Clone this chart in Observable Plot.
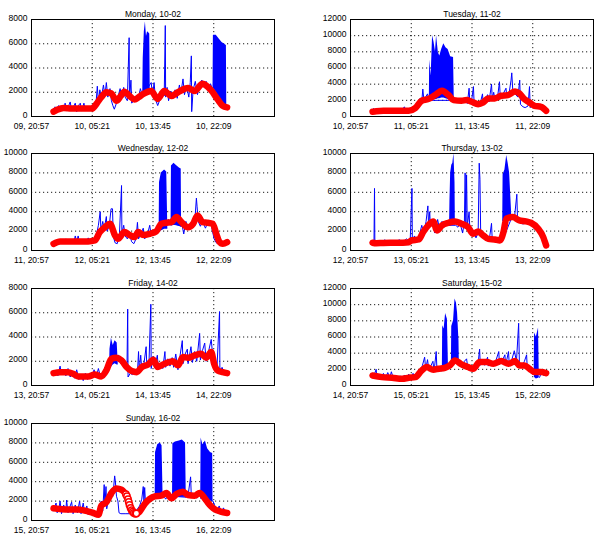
<!DOCTYPE html>
<html><head><meta charset="utf-8">
<script src="https://cdn.jsdelivr.net/npm/d3@7"></script>
<script src="https://cdn.jsdelivr.net/npm/@observablehq/plot@0.6"></script>
<style>
body{margin:0;background:#fff;}
#wrap{position:relative;width:600px;height:534px;overflow:hidden;background:#fff;}
.panel{position:absolute;}
</style></head><body><div id="wrap"></div>
<script>
// ---- labels ----
const titles = ["Monday, 10-02","Tuesday, 11-02","Wednesday, 12-02","Thursday, 13-02","Friday, 14-02","Saturday, 15-02","Sunday, 16-02"];
const dayNums = [10,11,12,13,14,15,16];
const yMaxes = [8000,12000,10000,10000,8000,12000,10000];
const yStep = 2000;
const xTickHours = [-3.05, 5.35, 13.75, 22.15];
const tickTimes = ["20:57","05:21","13:45","22:09"];
const xDomain = [-3.05, 30.55];

// ---- Monday ----
const monBlue = [[0,300],[0.2,800],[0.4,450],[0.7,900],[0.9,550],[1.2,850],[1.4,500],[1.6,1100],[1.8,450],[2.1,900],[2.3,1200],[2.5,500],[2.8,850],[3.0,1100],[3.2,400],[3.5,950],[3.7,1100],[3.9,450],[4.2,1100],[4.4,500],[4.7,800],[5.0,550],[5.3,900],[5.6,700],[5.9,1300],[6.05,2500],[6.2,1200],[6.4,2200],[6.6,1500],[6.9,2600],[7.1,1700],[7.3,2800],[7.5,1600],[7.8,2300],[8.0,1300],[8.2,900],[8.4,600],[8.7,1100],[8.9,1600],[9.2,2300],[9.4,1700],[9.7,2400],[9.9,1600],[10.2,1300],[10.45,6500],[10.5,1400],[10.7,3000],[10.8,1100],[11.1,1300],[11.4,1700],[11.7,1300],[12.0,2300],[12.3,1700],[13.5,2800],[13.7,1700],[13.9,2800],[14.1,1400],[14.4,900],[14.7,1400],[15.0,2100],[15.3,1700],[15.45,7500],[15.5,1600],[15.7,2400],[15.9,1300],[16.2,2100],[16.5,1600],[16.8,2200],[17.1,1500],[17.4,2600],[17.6,1900],[17.9,3100],[18.1,1800],[18.4,2500],[18.7,1600],[18.9,2800],[19.05,5000],[19.1,400],[19.3,2200],[19.6,2900],[19.9,1800],[20.2,2600],[20.5,3000],[20.8,2600],[21.1,2900],[21.4,2300],[21.7,2700],[22.0,2200],[23.9,900],[24,700]];
const monBlocks = [
 [[12.33,1800,1800],[12.4,1700,4800],[12.55,1700,7000],[12.7,1800,7800],[12.85,1800,6600],[13.0,1900,7000],[13.15,2000,6900],[13.3,2000,6800],[13.37,2000,2000]],
 [[22.05,2400,2400],[22.1,2300,6700],[22.5,2000,6700],[22.9,1500,6400],[23.3,1100,6100],[23.9,800,5850],[23.95,800,800]]
];
const monRed = [[0,400],[0.5,550],[1.4,700],[2.5,650],[3.5,650],[4.5,650],[5.3,650],[6.0,1100],[6.6,1600],[7.3,2000],[8.0,1900],[8.7,1300],[9.3,1700],[9.8,2050],[10.5,1700],[11.2,1400],[11.8,1600],[12.4,1850],[13.5,2100],[14.4,1450],[15.3,2100],[16.3,1700],[17.2,2000],[18.6,2350],[19.5,2100],[20.6,2700],[21.3,2450],[21.8,2150],[22.7,1400],[23.4,880],[24,750]];

// ---- Tuesday ----
const tueBlue = [[0,500],[0.15,1000],[0.3,500],[1,600],[2,650],[3,600],[4,700],[4.4,1200],[4.6,700],[4.9,1000],[5.1,700],[5.5,900],[5.9,800],[6.2,1500],[6.5,2200],[6.8,1800],[6.95,3400],[7.1,2000],[7.4,2500],[7.6,2800],[7.8,2000],[11.4,2000],[11.7,1800],[12.0,2100],[12.4,1800],[12.8,2000],[13.1,1600],[13.35,3500],[13.45,1600],[13.7,2000],[13.95,3700],[14.05,1500],[14.4,1500],[14.8,1300],[15.2,2800],[15.3,1500],[15.6,2000],[15.9,2700],[16.1,1800],[16.45,4000],[16.55,2200],[16.75,3000],[16.9,2200],[17.3,2500],[17.55,4300],[17.65,2500],[18.0,2700],[18.45,3500],[18.55,2500],[18.9,3000],[19.15,4500],[19.25,5400],[19.4,3000],[19.7,2800],[20.1,2400],[20.35,4500],[20.45,1500],[20.8,1200],[21.1,1100],[21.5,1300],[21.7,3700],[21.8,1100],[22.2,1500],[22.7,1200],[23.2,1300],[23.6,1100],[24,700]];
const tueBlocks = [
 [[7.85,2000,2000],[7.9,2000,7000],[8.1,2000,5000],[8.3,2000,10000],[8.5,2100,9200],[8.7,2100,8000],[8.85,2100,10000],[9.1,2200,7900],[9.3,2200,7500],[9.55,2300,8300],[9.85,2300,9000],[10.15,2200,8500],[10.45,2100,8300],[10.8,2000,7400],[11.2,2000,7300],[11.3,2000,2000]]
];
const tueRed = [[0,600],[0.5,650],[1.5,700],[3,700],[4.2,700],[5.0,700],[5.9,1030],[6.8,1950],[7.7,2150],[8.65,2650],[9.6,3200],[10.5,2650],[11.2,2030],[12.3,1950],[13.0,2030],[13.7,1820],[14.6,1530],[15.3,1740],[16.0,2240],[16.9,2240],[17.8,2570],[18.7,2650],[19.7,3100],[20.3,2860],[21.0,2150],[21.7,1740],[22.4,1320],[23.3,1200],[24,700]];

// ---- Wednesday ----
const wedBlue = [[0,600],[0.3,1000],[0.6,700],[1.0,1100],[1.3,800],[1.7,1200],[2.0,800],[2.4,1100],[2.8,800],[3.0,1500],[3.2,900],[3.4,1500],[3.6,800],[4.0,1100],[4.4,800],[4.8,1300],[5.2,800],[5.6,1100],[5.9,1500],[6.2,2600],[6.45,4000],[6.55,2000],[6.8,3000],[7.0,2200],[7.3,3500],[7.4,2000],[7.7,2500],[7.95,4300],[8.15,4300],[8.25,1500],[8.5,800],[8.8,700],[9.1,1500],[9.4,6700],[9.45,1800],[9.7,2600],[9.9,1500],[10.2,1200],[10.5,1700],[10.8,900],[11.1,700],[11.4,1200],[11.6,2900],[11.75,1200],[12.0,1600],[12.4,2300],[12.6,1200],[13.0,1700],[13.3,2600],[13.5,1500],[13.9,1800],[14.2,2000],[14.5,2400],[15.9,3200],[16.1,2800],[17.8,2500],[18.0,1700],[18.3,3000],[18.6,2200],[18.9,2500],[19.2,3000],[19.5,2700],[19.75,5400],[19.85,4500],[20.0,3000],[20.3,2500],[20.6,3000],[21.0,2300],[21.4,3000],[21.8,2600],[22.2,1200],[22.5,800],[22.9,600],[23.4,700],[24,800]];
const wedBlocks = [
 [[14.6,2000,2000],[14.65,2000,7000],[14.9,2000,8000],[15.35,2200,8300],[15.65,2200,8100],[15.8,2200,2200]],
 [[16.25,2500,2500],[16.3,2500,8700],[16.65,2600,9000],[16.95,2600,8800],[17.4,2500,8500],[17.65,2400,8400],[17.7,2400,2400]]
];
const wedRed = [[0,690],[0.9,930],[2.0,930],[3.4,930],[4.8,930],[5.7,1035],[6.4,1900],[7.1,2400],[7.8,2760],[8.5,1550],[8.9,1200],[9.8,1900],[10.5,1600],[11.2,1380],[11.7,1900],[12.4,1600],[13.3,1725],[14.2,1970],[14.9,2760],[15.6,2860],[16.3,2930],[17.0,3450],[17.6,3000],[18.6,2400],[19.3,2760],[19.9,3620],[20.6,2930],[21.3,2860],[22.0,2760],[22.5,1725],[22.9,930],[23.4,690],[24,860]];

// ---- Thursday ----
const thuBlue = [[0,700],[0.2,1000],[0.27,6400],[0.32,700],[0.7,1000],[1.2,800],[1.7,1100],[2.2,800],[2.7,1000],[3.2,900],[3.7,1100],[4.2,900],[4.7,1200],[5.2,900],[5.45,6400],[5.5,1000],[5.8,1500],[6.1,800],[6.4,1300],[6.8,2600],[7.1,1800],[7.4,3000],[7.65,4600],[7.75,2500],[7.9,4000],[8.0,2500],[8.3,3000],[8.6,1800],[8.8,2500],[9.0,3200],[9.3,2000],[9.6,3000],[9.9,2400],[10.2,3000],[10.5,2600],[11.5,2600],[11.8,2400],[12.1,2800],[12.45,1800],[12.7,3000],[12.8,8000],[12.9,2500],[13.0,7800],[13.1,2500],[13.35,4000],[13.45,2200],[13.7,1500],[14.0,2000],[14.3,1300],[14.6,1800],[14.75,9000],[14.85,7300],[14.95,1800],[15.2,1500],[15.5,1100],[15.8,1400],[16.1,900],[16.45,2800],[16.55,1000],[16.9,1300],[17.3,900],[17.7,1300],[17.95,1000],[19.3,3500],[19.6,3200],[19.95,5800],[20.05,3000],[20.4,3200],[20.8,2700],[21.2,3200],[21.6,2800],[22.0,3000],[22.4,2200],[22.8,2500],[23.2,1800],[23.6,1300],[24,500]];
const thuBlocks = [
 [[10.65,2500,2500],[10.7,2500,5000],[10.8,2500,8000],[10.95,2600,8800],[11.1,2700,9000],[11.25,2700,10000],[11.4,2600,7000],[11.45,2600,2600]],
 [[18.0,3000,3000],[18.05,3000,7800],[18.3,3000,8300],[18.55,3000,9800],[18.75,3000,9000],[18.95,3100,8000],[19.2,3200,4300],[19.25,3200,3200]]
];
const thuRed = [[0,800],[0.5,750],[1.5,780],[3,790],[4.2,800],[5.0,850],[5.4,1035],[6.4,1140],[7.0,1900],[7.7,2590],[8.4,3000],[8.9,2070],[9.6,2590],[10.5,2860],[11.4,3000],[12.3,2760],[13.2,2420],[13.9,1725],[14.6,1970],[15.3,1550],[16.0,1200],[16.9,1140],[17.6,1035],[18.1,1900],[18.5,3280],[19.4,3450],[20.3,3100],[21.2,3000],[21.9,2860],[22.9,2240],[23.6,1380],[24,520]];

// ---- Friday ----
const friBlue = [[0,900],[0.3,1200],[0.6,800],[0.9,1600],[1.1,900],[1.4,1300],[1.7,800],[2.0,1400],[2.3,700],[2.6,1100],[2.9,600],[3.2,1300],[3.5,500],[3.8,900],[4.1,400],[4.4,1000],[4.7,500],[5.0,900],[5.3,600],[5.6,1300],[5.9,700],[6.2,1400],[6.5,700],[6.8,900],[7.1,1500],[7.4,1200],[7.7,2000],[9.0,2500],[9.3,1800],[9.6,2200],[9.9,1600],[10.15,1300],[10.25,6300],[10.3,700],[10.6,1000],[10.9,900],[11.2,1300],[11.6,1000],[11.75,2800],[11.85,1200],[12.05,2500],[12.2,1300],[12.5,1800],[12.8,3200],[12.9,1500],[13.2,2000],[13.45,6700],[13.5,1400],[13.8,2400],[14.0,1500],[14.35,2500],[14.5,1300],[14.8,1800],[15.1,1400],[15.4,2800],[15.5,1500],[15.8,2200],[16.1,1600],[16.4,2300],[16.6,1500],[16.9,2600],[17.2,1300],[17.5,2500],[17.8,3700],[17.9,1800],[18.2,2600],[18.5,3000],[18.6,1800],[19.0,3200],[19.2,1900],[19.5,2800],[19.8,2000],[20.2,4300],[20.3,2100],[20.6,2900],[20.9,3500],[21.1,2000],[21.5,3000],[21.8,3800],[22.0,2500],[22.3,1800],[22.6,1500],[22.95,6100],[23.0,1000],[23.3,1500],[23.6,1000],[24,900]];
const friBlocks = [
 [[7.75,1500,1500],[7.8,1400,3000],[8.0,1500,3900],[8.25,1700,3300],[8.5,1800,3700],[8.8,1700,3500],[8.95,1700,1700]]
];
const friRed = [[0,1020],[0.9,1100],[2.0,1100],[2.7,970],[3.4,750],[4.8,750],[5.7,910],[6.6,750],[7.3,1240],[8.0,2200],[8.7,2290],[9.4,2070],[10.1,1520],[10.8,1190],[11.5,1100],[12.2,1520],[13.1,1740],[13.8,2120],[14.4,1520],[14.9,1660],[15.6,1850],[16.5,2010],[17.2,1660],[17.9,2350],[18.6,2290],[19.5,2480],[20.4,2620],[21.1,2290],[21.8,2760],[22.2,1790],[22.7,1240],[23.4,1100],[24,1020]];

// ---- Saturday ----
const satBlue = [[0,1000],[0.3,1500],[0.5,2000],[0.6,900],[0.9,1400],[1.2,800],[1.5,1500],[1.8,900],[2.1,1600],[2.4,1000],[2.6,1700],[2.9,800],[3.2,1300],[3.5,700],[3.8,1200],[4.1,600],[4.4,1300],[4.7,700],[5.0,1400],[5.3,800],[5.6,1500],[5.9,900],[6.2,1700],[6.5,1400],[6.9,2500],[7.2,3500],[7.35,2000],[7.6,3200],[7.8,1800],[8.1,2500],[8.35,3000],[8.5,1700],[8.8,4200],[8.9,2000],[9.2,2300],[9.5,1800],[10.5,2100],[10.8,2500],[11.9,3000],[12.1,2600],[12.4,2200],[12.7,3000],[13.0,3300],[13.2,2000],[13.6,2300],[13.9,1800],[14.3,2500],[14.6,2800],[14.8,4500],[14.9,2500],[15.2,3200],[15.5,2500],[15.9,3500],[16.0,2400],[16.4,3000],[16.8,2500],[17.1,3200],[17.45,4200],[17.55,2600],[17.9,3000],[18.3,3800],[18.4,2500],[18.8,4200],[18.9,2600],[19.2,3000],[19.6,4300],[19.9,3000],[20.2,7700],[20.3,2800],[20.6,2300],[21.0,3000],[21.3,3800],[21.4,2000],[21.7,2500],[22.0,1500],[23.1,1000],[23.4,1800],[23.7,1200],[24,1500]];
const satBlocks = [
 [[9.65,2000,2000],[9.7,2000,7400],[9.9,2000,7000],[10.1,2000,8900],[10.35,2100,8200],[10.5,2100,2100]],
 [[10.9,2500,2500],[10.95,2500,7300],[11.2,2600,8000],[11.4,2600,10700],[11.6,2600,10200],[11.75,2600,9000],[11.95,2600,5500],[12.0,2600,2600]],
 [[22.35,1500,1500],[22.4,1000,6500],[22.65,800,6000],[22.95,900,7100],[23.05,1200,1200]]
];
const satRed = [[0,1240],[1.3,1035],[2.7,950],[4.1,830],[5.0,950],[5.9,1035],[6.8,1860],[7.5,2280],[8.4,1950],[9.1,2070],[10.0,2190],[10.7,2480],[11.4,3100],[12.3,2610],[13.2,2280],[13.9,2070],[14.8,2900],[15.8,2900],[16.7,2690],[17.8,3020],[18.8,2690],[19.7,3020],[20.3,2480],[21.0,2480],[21.7,2070],[22.4,1660],[23.3,1660],[24,1530]];

// ---- Sunday ----
const sunBlue = [[0,1000],[0.2,1500],[0.35,1800],[0.5,800],[0.8,1500],[0.9,2000],[1.1,700],[1.4,1600],[1.7,900],[1.8,2100],[2.0,800],[2.3,1500],[2.5,1900],[2.7,700],[3.0,1600],[3.3,800],[3.6,2000],[3.8,700],[4.1,1800],[4.3,800],[4.6,1500],[4.8,600],[5.1,1000],[5.4,600],[5.7,900],[6.0,500],[6.3,1000],[6.6,2000],[6.8,1000],[7.0,3700],[7.1,1500],[7.25,3500],[7.35,1200],[7.6,2200],[7.9,2800],[8.2,2500],[8.45,4600],[8.55,4000],[8.7,2500],[8.9,2000],[9.05,800],[9.3,700],[10.0,700],[10.8,700],[11.3,800],[11.6,1200],[11.9,1500],[12.2,2200],[12.4,3500],[12.5,2000],[12.6,3400],[12.7,2000],[13.0,2200],[13.4,2500],[13.8,2300],[14.05,2500],[15.2,2600],[15.5,2200],[15.9,2600],[16.3,2200],[16.45,2500],[18.35,2400],[18.6,2600],[18.95,4500],[19.05,2400],[19.4,2600],[19.8,2300],[20.2,2600],[20.4,2500],[22.05,2000],[22.3,1500],[22.6,900],[22.9,1500],[23.2,800],[23.5,1300],[23.8,700],[24,800]];
const sunBlocks = [
 [[14.05,2200,2200],[14.1,2200,7000],[14.4,2200,7800],[14.75,2300,8000],[15.0,2300,7700],[15.15,2300,2300]],
 [[16.45,2200,2200],[16.5,2200,7900],[16.85,2300,8100],[17.4,2400,8200],[17.8,2400,8300],[18.25,2400,8000],[18.35,2400,2400]],
 [[20.35,2200,2200],[20.4,2200,8500],[20.65,2200,7800],[21.0,2300,8200],[21.3,2200,7400],[21.7,2000,7000],[22.0,2000,6900],[22.05,2000,2000]]
];
const sunRed = [[0,1260],[0.9,1190],[2.0,1125],[3.4,1125],[4.8,920],[5.5,780],[6.2,580],[6.6,1530],[7.3,1880],[8.0,2830],[8.7,3300],[9.4,3170],[9.8,2900],[11.6,750],[11.9,920],[12.6,1700],[13.3,2220],[14.0,2490],[14.9,2560],[15.6,2830],[16.3,2290],[17.0,2730],[17.9,2970],[18.6,2630],[19.5,2560],[20.2,2830],[20.9,2290],[21.5,1700],[22.2,1190],[23.1,920],[24,780]];
const sunRedOpen = [[10.0,2700],[10.15,2500],[10.3,2200],[10.4,1900],[10.5,1600],[10.65,1300],[10.8,1050],[10.95,900],[11.1,780],[11.3,700],[11.45,720]];

const blues = [monBlue,tueBlue,wedBlue,thuBlue,friBlue,satBlue,sunBlue];
const blocks = [monBlocks,tueBlocks,wedBlocks,thuBlocks,friBlocks,satBlocks,sunBlocks];
const reds = [monRed,tueRed,wedRed,thuRed,friRed,satRed,sunRed];
const opens = [[],[],[],[],[],[],sunRedOpen];

const wrap = document.getElementById("wrap");
const rowTops = [0,134,269,404];
const rowHeights = [134,134,134,130];
const pad2 = n => (n < 10 ? "0" : "") + n;

titles.forEach((title, i) => {
  const col = i % 2, row = Math.floor(i / 2);
  const ymax = yMaxes[i];
  const yTicks = d3.range(0, ymax + 1, yStep);
  const day = dayNums[i];
  const xLabels = tickTimes.map((tt, k) => (k === 0 ? pad2(day - 1) : pad2(day)) + ", " + tt);
  // split red into segments where the smoothed series has a gap (open-circle stretch)
  let seg = 0;
  const red = reds[i].map((d, k, a) => { if (k > 0 && d[0] - a[k-1][0] > 1.75) seg++; return {t: d[0], v: d[1], s: seg}; });
  const blk = blocks[i].flatMap((b, k) => b.map(d => ({t: d[0], lo: d[1], hi: d[2], b: k})));
  const h = rowHeights[row];
  const chart = Plot.plot({
    width: 300, height: h,
    marginLeft: col === 0 ? 31 : 50,
    marginRight: col === 0 ? 26 : 7,
    marginTop: 19, marginBottom: h - 19 - 97,
    style: {fontFamily: "'Liberation Sans', Arial, sans-serif", fontSize: "8px", color: "#000", background: "transparent", overflow: "visible"},
    x: {domain: xDomain},
    y: {domain: [0, ymax]},
    marks: [
      Plot.gridX(xTickHours, {stroke: "#000", strokeOpacity: 0.9, strokeDasharray: "1.2,2.8"}),
      Plot.gridY(yTicks, {stroke: "#000", strokeOpacity: 0.9, strokeDasharray: "1.2,2.8"}),
      Plot.areaY(blk, {x: "t", y1: "lo", y2: "hi", z: "b", fill: "#0000ff", curve: "linear"}),
      Plot.line(blues[i], {x: d => d[0], y: d => d[1], stroke: "#0000ff", strokeWidth: 1}),
      Plot.line(red, {x: "t", y: "v", z: "s", stroke: "#ff0000", strokeWidth: 6.5, strokeLinecap: "round", strokeLinejoin: "round", curve: "monotone-x"}),
      Plot.dot(opens[i], {x: d => d[0], y: d => d[1], r: 3.2, stroke: "#ff0000", strokeWidth: 1.5, fill: "#fff"}),
      Plot.frame({stroke: "#000", strokeWidth: 1}),
      Plot.axisY({ticks: yTicks, tickFormat: d => String(d), tickSize: 0, tickPadding: 4, dy: -1.5, label: null, fontSize: 8.5}),
      Plot.axisX({ticks: xTickHours, tickFormat: d => xLabels[xTickHours.indexOf(d)], tickSize: 0, tickPadding: 6, label: null, fontSize: 8.5}),
      Plot.text([title], {frameAnchor: "top", dy: -9, fontSize: 8.5, fill: "#000"})
    ]
  });
  chart.classList.add("panel");
  chart.style.left = (col * 300) + "px";
  chart.style.top = rowTops[row] + "px";
  wrap.appendChild(chart);
});
</script></body></html>
